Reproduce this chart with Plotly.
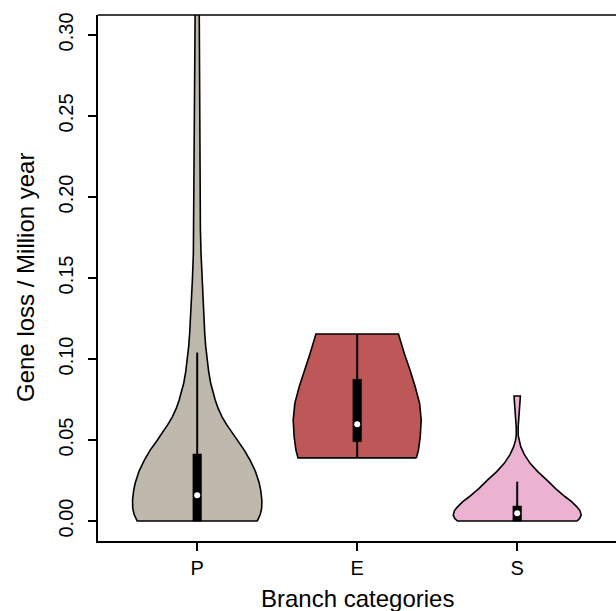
import plotly.graph_objects as go

# ---- data ----
categories = ["P", "E", "S"]
positions = [1, 2, 3]

# violin profiles: values (y) and half-widths (in category units)
P_vals = [0.0, 0.004, 0.008, 0.013, 0.019, 0.0235, 0.031, 0.0375, 0.0438, 0.049, 0.054,
          0.0595, 0.0642, 0.0695, 0.0747, 0.080, 0.0852, 0.092, 0.0994, 0.108, 0.116,
          0.128, 0.14, 0.149, 0.165, 0.18, 0.21, 0.26, 0.32]
P_hw = [0.375, 0.394, 0.403, 0.404, 0.397, 0.3875, 0.3625, 0.331, 0.294, 0.256, 0.219,
        0.184, 0.156, 0.131, 0.1125, 0.097, 0.084, 0.072, 0.0625, 0.053, 0.047,
        0.041, 0.034, 0.030, 0.024, 0.020, 0.018, 0.0156, 0.0125]

E_vals = [0.039, 0.0438, 0.052, 0.0623, 0.0726, 0.0829, 0.0932, 0.103, 0.1154]
E_hw = [0.37, 0.383, 0.394, 0.40, 0.39, 0.3625, 0.33, 0.296, 0.258]

S_vals = [0.0, 0.0015, 0.0037, 0.0065, 0.0088, 0.012, 0.015, 0.020, 0.0253, 0.0305, 0.0356,
          0.041, 0.0459, 0.050, 0.053, 0.058, 0.0654, 0.0716, 0.0772]
S_hw = [0.373, 0.39, 0.40, 0.392, 0.373, 0.34, 0.30, 0.24, 0.186, 0.128, 0.081,
        0.045, 0.022, 0.01, 0.006, 0.006, 0.01, 0.015, 0.02]

# box statistics: lower whisker, q1, median, q3, upper whisker
P_box = [0.0, 0.0, 0.016, 0.0414, 0.104]
E_box = [0.039, 0.049, 0.0597, 0.0875, 0.1154]
S_box = [0.0, 0.0, 0.0048, 0.0093, 0.0243]

y_ticks = [0.00, 0.05, 0.10, 0.15, 0.20, 0.25, 0.30]
y_tick_labels = ["0.00", "0.05", "0.10", "0.15", "0.20", "0.25", "0.30"]

fills = ["#BFB8AD", "#BE5757", "#EBB2D1"]

FONT = "Liberation Sans, Arial, Helvetica, sans-serif"
BOX_HALF = 0.027

fig = go.Figure()

profiles = [(P_vals, P_hw), (E_vals, E_hw), (S_vals, S_hw)]
boxes = [P_box, E_box, S_box]

for pos, (vals, hw), box, col in zip(positions, profiles, boxes, fills):
    xs = [pos + w for w in hw] + [pos - w for w in reversed(hw)] + [pos + hw[0]]
    ys = list(vals) + list(reversed(vals)) + [vals[0]]
    fig.add_trace(go.Scatter(x=xs, y=ys, mode="lines", fill="toself", fillcolor=col,
                             line=dict(color="black", width=1.6), hoverinfo="skip",
                             showlegend=False))
    lo, q1, med, q3, hi = box
    fig.add_trace(go.Scatter(x=[pos, pos], y=[lo, hi], mode="lines",
                             line=dict(color="black", width=2), showlegend=False,
                             hoverinfo="skip"))
    fig.add_trace(go.Scatter(x=[pos - BOX_HALF, pos + BOX_HALF, pos + BOX_HALF, pos - BOX_HALF, pos - BOX_HALF],
                             y=[q1, q1, q3, q3, q1], mode="lines", fill="toself",
                             fillcolor="black", line=dict(color="black", width=0.5),
                             showlegend=False, hoverinfo="skip"))
    fig.add_trace(go.Scatter(x=[pos], y=[med], mode="markers",
                             marker=dict(color="white", size=6, symbol="circle"),
                             showlegend=False, hoverinfo="skip"))

fig.update_layout(
    width=616, height=611,
    margin=dict(l=98, r=0, t=15, b=70),
    plot_bgcolor="white", paper_bgcolor="white",
    font=dict(family=FONT, size=20, color="black"),
    showlegend=False,
)
fig.update_xaxes(
    range=[0.38, 3.6175], tickmode="array", tickvals=positions, ticktext=categories,
    showgrid=False, zeroline=False, showline=True, linecolor="black", linewidth=1.5,
    ticks="outside", ticklen=8, tickwidth=1.5, tickcolor="black",
    tickfont=dict(size=20, family=FONT), ticklabelstandoff=0,
)
fig.update_yaxes(
    range=[-0.0123, 0.3123], tickmode="array", tickvals=y_ticks, ticktext=y_tick_labels,
    showgrid=False, zeroline=False, showline=True, linecolor="black", linewidth=1.5,
    ticks="outside", ticklen=8, tickwidth=1.5, tickcolor="black", tickangle=-90,
    tickfont=dict(size=20, family=FONT), ticklabelstandoff=7,
)
fig.add_shape(type="line", xref="paper", yref="paper", x0=0, x1=1, y0=1, y1=1,
              line=dict(color="black", width=1.5))

fig.add_annotation(text="Gene loss / Million year", xref="paper", yref="paper",
                   x=0, y=0.5, xshift=-73, textangle=-90, showarrow=False,
                   xanchor="center", yanchor="middle", font=dict(size=24, family=FONT))
fig.add_annotation(text="Branch categories", xref="paper", yref="paper",
                   x=0.5, y=0, yshift=-57, showarrow=False,
                   xanchor="center", yanchor="middle", font=dict(size=24, family=FONT))

fig.write_html("out.html", config={"displayModeBar": False},
               post_script="document.body.style.margin='0px';")
